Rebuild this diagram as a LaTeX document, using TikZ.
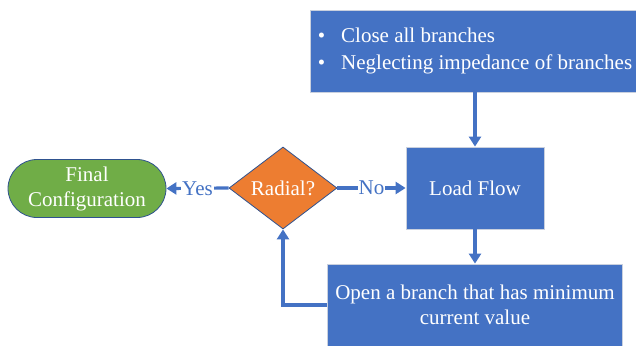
\documentclass[tikz,border=0pt]{standalone}
\usepackage{fontspec}
\setmainfont{Liberation Serif}
\newfontfamily\tnr{Liberation Serif}
\usetikzlibrary{shapes.geometric,arrows.meta}
\definecolor{bl}{HTML}{4472C4}
\definecolor{orng}{HTML}{ED7D31}
\definecolor{grn}{HTML}{70AD47}
\definecolor{dkbl}{HTML}{2F528F}
\definecolor{lgrey}{HTML}{C9D0DE}
\begin{document}
\begin{tikzpicture}[x=1pt,y=-1pt,
  txt/.style={font=\tnr\fontsize{21}{25}\selectfont},
  procbox/.style={txt, draw=lgrey, line width=0.8pt, fill=bl, text=white, inner sep=0pt, align=center},
  decision/.style={txt, shape=diamond, draw=dkbl, line width=0.8pt, fill=orng, text=white, inner sep=0pt,
    minimum width=108pt, minimum height=82pt},
  term/.style={txt, draw=dkbl, line width=0.8pt, fill=grn, text=white, rounded corners=29pt,
    minimum width=158pt, minimum height=58pt, inner sep=0pt, align=center},
  conn/.style={draw=bl, line width=3.2pt, -{Triangle[length=10pt,width=12pt]}},
  lbl/.style={txt, fill=white, text=bl, inner sep=1pt}
]
\useasboundingbox (0,0) rectangle (636,345);
\node[procbox, minimum width=330pt, minimum height=82pt] (top) at (475,51)
  {\begin{tabular}{@{}l@{\hspace{16pt}}l@{}}
   \textbullet & Close all branches\\[3pt]
   \textbullet & Neglecting impedance of branches
   \end{tabular}};
\node[procbox, minimum width=138pt, minimum height=82pt] (lf) at (475,188) {Load Flow};
\node[procbox, minimum width=295pt, minimum height=82pt] (open) at (475,305)
  {Open a branch that has minimum\\current value};
\node[decision] (rad) at (283,188) {Radial?};
\node[term] (fin) at (87,188.5) {Final\\Configuration};
\draw[conn] (top.south) -- (lf.north);
\draw[conn] (lf.south) -- (open.north);
\draw[conn] (rad.east) -- node[lbl] {No} (lf.west);
\draw[conn] (rad.west) -- node[lbl] {Yes} (fin.east);
\draw[conn] (open.west) -| (rad.south);
\end{tikzpicture}
\end{document}
